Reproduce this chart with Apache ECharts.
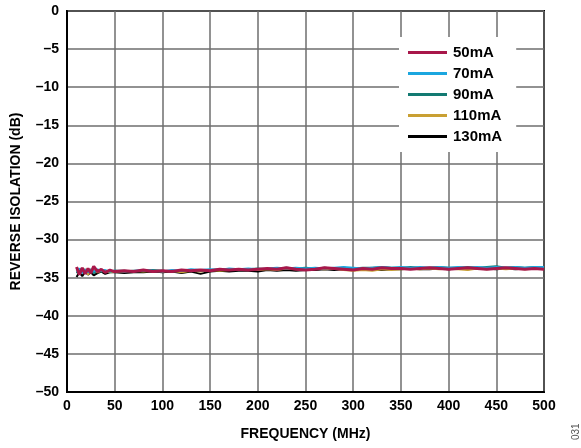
<!DOCTYPE html>
<html>
<head>
<meta charset="utf-8">
<script src="https://cdn.jsdelivr.net/npm/echarts@6/dist/echarts.min.js"></script>
<style>
  html, body { margin: 0; padding: 0; background: #fff; }
  #chart { width: 581px; height: 448px; }
</style>
</head>
<body>
<div id="chart"></div>
<script>
// Frequency points (MHz)
const freq = [10, 13, 16, 19, 22, 25, 28, 32, 36, 40, 45, 50,
  60, 70, 80, 90, 100, 110, 120, 130, 140, 150, 160, 170, 180, 190, 200,
  210, 220, 230, 240, 250, 260, 270, 280, 290, 300, 310, 320, 330, 340, 350,
  360, 370, 380, 390, 400, 410, 420, 430, 440, 450, 460, 470, 480, 490, 500];

// Reverse isolation (dB) per bias current
const iso50 = [-33.6, -34.6, -33.7, -34.5, -33.8, -34.4, -33.5, -34.2, -33.9, -34.3, -34.0, -34.2,
  -34.1, -34.2, -34.0, -34.2, -34.1, -34.2, -34.0, -34.1, -34.0, -34.1, -33.9, -34.0, -33.9, -34.0, -33.9,
  -33.8, -33.9, -33.7, -33.9, -34.0, -33.9, -33.7, -33.8, -33.9, -34.0, -33.8, -33.9, -33.7, -33.8, -33.8,
  -33.9, -33.8, -33.7, -33.8, -33.9, -33.8, -33.7, -33.8, -33.9, -33.8, -33.7, -33.8, -33.9, -33.8, -33.9];
const iso70 = [-34.2, -33.8, -34.4, -33.9, -34.3, -34.0, -34.2, -33.9, -34.1, -34.0, -34.2, -34.1,
  -34.2, -34.1, -34.0, -34.1, -34.2, -34.0, -34.1, -33.9, -34.0, -33.9, -34.0, -33.8, -33.9, -33.8, -33.9,
  -33.8, -33.7, -33.8, -33.7, -33.8, -33.7, -33.8, -33.7, -33.6, -33.7, -33.8, -33.7, -33.6, -33.7, -33.6,
  -33.7, -33.6, -33.7, -33.6, -33.7, -33.6, -33.7, -33.6, -33.7, -33.6, -33.7, -33.6, -33.7, -33.6, -33.6];
const iso90 = [-34.4, -34.0, -33.8, -34.3, -34.1, -33.9, -34.4, -34.0, -34.2, -34.1, -34.2, -34.1,
  -34.1, -34.2, -34.1, -34.0, -34.1, -34.2, -34.1, -34.0, -34.1, -34.0, -33.9, -34.0, -33.9, -33.9, -33.8,
  -33.9, -33.8, -33.7, -33.8, -33.7, -33.8, -33.7, -33.8, -33.7, -33.8, -33.7, -33.7, -33.6, -33.7, -33.7,
  -33.6, -33.7, -33.7, -33.6, -33.7, -33.7, -33.6, -33.7, -33.6, -33.5, -33.7, -33.6, -33.7, -33.6, -33.6];
const iso110 = [-34.0, -34.5, -34.1, -33.9, -34.6, -34.2, -34.0, -34.3, -34.1, -34.2, -34.3, -34.2,
  -34.2, -34.1, -34.2, -34.1, -34.2, -34.1, -34.3, -34.1, -34.2, -34.0, -34.1, -34.0, -34.0, -33.9, -34.0,
  -33.9, -34.0, -33.8, -33.9, -33.9, -33.8, -33.9, -33.8, -34.0, -34.1, -34.0, -34.1, -33.9, -34.0, -33.9,
  -33.8, -33.9, -33.8, -33.9, -33.8, -33.9, -34.0, -33.8, -33.9, -33.8, -33.9, -33.8, -33.9, -33.8, -33.8];
const iso130 = [-34.9, -34.3, -34.8, -34.2, -34.6, -34.3, -34.7, -34.4, -34.2, -34.5, -34.3, -34.3,
  -34.4, -34.3, -34.3, -34.2, -34.3, -34.2, -34.4, -34.2, -34.5, -34.2, -34.1, -34.2, -34.1, -34.1, -34.2,
  -34.0, -34.1, -34.0, -34.1, -34.0, -34.0, -33.9, -34.0, -33.9, -34.0, -33.9, -33.9, -34.0, -33.9, -33.9,
  -33.8, -33.9, -33.9, -33.8, -33.9, -33.8, -33.9, -33.8, -33.8, -33.9, -33.8, -33.9, -33.8, -33.8, -33.8];

const seriesNames = ['50mA', '70mA', '90mA', '110mA', '130mA'];
const seriesColors = ['#A8174A', '#1BA6DF', '#137A72', '#C9A033', '#000000'];
const seriesData = [iso50, iso70, iso90, iso110, iso130];
const seriesWidths = [3, 2, 2, 2, 2];

const font = 'Liberation Sans, Arial, sans-serif';
const pairs = (ys) => freq.map((f, i) => [f, ys[i]]);

// Draw the 130mA trace first so 50mA ends up on top
const series = [];
for (let k = seriesNames.length - 1; k >= 0; k--) {
  series.push({
    name: seriesNames[k],
    type: 'line',
    data: pairs(seriesData[k]),
    symbol: 'none',
    smooth: false,
    color: seriesColors[k],
    lineStyle: { width: seriesWidths[k], color: seriesColors[k] }
  });
}

const chart = echarts.init(document.getElementById('chart'), null, { renderer: 'canvas' });
chart.setOption({
  animation: false,
  backgroundColor: '#ffffff',
  grid: { left: 67, right: 37, top: 11, bottom: 56, show: true, borderColor: '#000', borderWidth: 2 },
  legend: {
    data: seriesNames,
    orient: 'vertical',
    left: 399,
    top: 37,
    width: 116,
    backgroundColor: '#ffffff',
    padding: [8, 14, 8, 9],
    icon: 'path://M0,0H39V3H0Z',
    symbolKeepAspect: true,
    itemWidth: 39,
    itemHeight: 14,
    itemGap: 6,
    itemStyle: { borderWidth: 0 },
    textStyle: { fontFamily: font, fontWeight: 'bold', fontSize: 15, color: '#000', lineHeight: 15, padding: [0, 0, 0, 1] }
  },
  xAxis: {
    type: 'value',
    min: 0, max: 500, interval: 50,
    name: 'FREQUENCY (MHz)',
    nameLocation: 'middle',
    nameGap: 35,
    nameTextStyle: { fontFamily: font, fontWeight: 'bold', fontSize: 14, color: '#000' },
    axisLine: { show: true, onZero: false, lineStyle: { color: '#000', width: 2 } },
    axisTick: { show: false },
    axisLabel: { fontFamily: font, fontWeight: 'bold', fontSize: 14, color: '#000', margin: 7 },
    splitLine: { show: true, lineStyle: { color: '#6e6e6e', width: 1.5 } }
  },
  yAxis: {
    type: 'value',
    min: -50, max: 0, interval: 5,
    name: 'REVERSE ISOLATION (dB)',
    nameLocation: 'middle',
    nameGap: 44,
    nameTextStyle: { fontFamily: font, fontWeight: 'bold', fontSize: 14, color: '#000' },
    axisLine: { show: true, onZero: false, lineStyle: { color: '#000', width: 2 } },
    axisTick: { show: false },
    axisLabel: {
      fontFamily: font, fontWeight: 'bold', fontSize: 14, color: '#000', margin: 8,
      formatter: (v) => (v < 0 ? '\u2013' + Math.abs(v) : String(v))
    },
    splitLine: { show: true, lineStyle: { color: '#6e6e6e', width: 1.5 } }
  },
  graphic: [{
    type: 'text',
    x: 571,
    y: 440,
    rotation: Math.PI / 2,
    style: { text: '031', fontFamily: font, fontSize: 10, fill: '#555', textAlign: 'left', textVerticalAlign: 'top' }
  }],
  series: series
});
</script>
</body>
</html>
